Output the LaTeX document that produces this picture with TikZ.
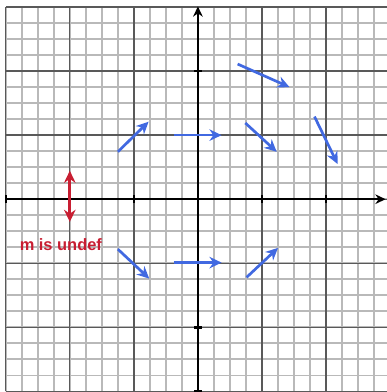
\documentclass[tikz,border=0pt]{standalone}
\usepackage{fontspec}
\setsansfont{Liberation Sans}
\usetikzlibrary{arrows.meta}
\definecolor{vecblue}{RGB}{65,105,225}
\definecolor{undefred}{RGB}{200,30,50}
\tikzset{
  finom/.style={gray!55,line width=0.75pt},
  fo/.style={gray!70!black,line width=0.6pt},
  tengely/.style={black,line width=1.1pt,-{Stealth[length=1.6mm,width=1.5mm]}},
  vek/.style={vecblue,line width=1.2pt,-{Stealth[length=1.9mm,width=1.8mm]}},
  piros/.style={undefred,line width=1.2pt,{Stealth[length=1.9mm,width=1.8mm]}-{Stealth[length=1.9mm,width=1.8mm]}},
}
\begin{document}
\begin{tikzpicture}[font=\sffamily\bfseries]
  \useasboundingbox (-3.09,-3.01) rectangle (2.95,3.11);
  % racs
  \draw[finom] (-3,-3) grid[step=0.25] (3,3);
  \draw[fo] (-3,-3) grid[step=1] (3,3);
  % tengelyek
  \draw[tengely] (-3,0) -- (2.93,0);
  \draw[tengely] (0,-3) -- (0,3.01);
  \foreach \i in {-3,...,2} {
    \draw[line width=1.1pt] (\i,-0.06) -- (\i,0.06);
    \draw[line width=1.1pt] (-0.06,\i) -- (0.06,\i);
  }
  % iranymezo
  \foreach \xa/\ya/\xb/\yb in {-1.25/0.74/-0.77/1.21, -0.38/1.0/0.37/1.0,
      0.74/1.19/1.23/0.74, 0.62/2.11/1.43/1.75, 1.82/1.29/2.18/0.55,
      -1.25/-0.78/-0.76/-1.24, -0.38/-0.99/0.37/-0.99, 0.76/-1.22/1.25/-0.76}
    \draw[vek] (\xa,\ya) -- (\xb,\yb);
  \draw[piros] (-2,0.445) -- (-2,-0.355);
  \node[text=undefred,font=\sffamily\bfseries\fontsize{7.3}{8}\selectfont] (undef) at (-2.14,-0.71) {m is undef};
\end{tikzpicture}
\end{document}
